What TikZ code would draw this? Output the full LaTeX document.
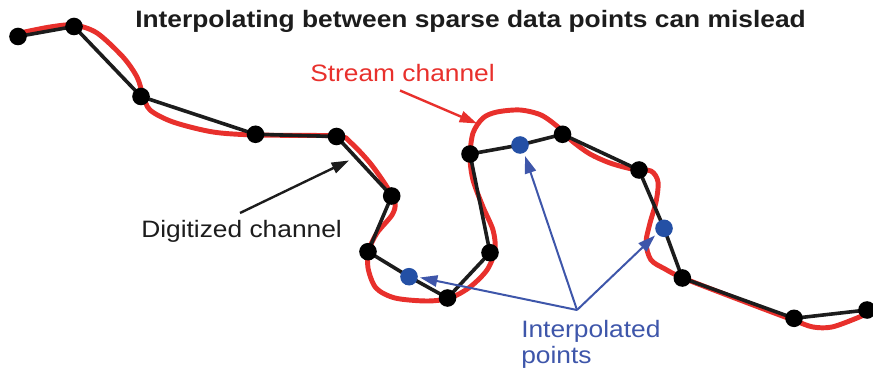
\documentclass[tikz,border=0pt]{standalone}
\usepackage{fontspec}
\setmainfont{Liberation Sans}
\usepackage{graphicx}
\usetikzlibrary{arrows.meta}
\definecolor{cred}{RGB}{232,48,44}
\definecolor{cblue}{RGB}{36,80,165}
\definecolor{clab}{RGB}{62,86,170}
\definecolor{cblk}{RGB}{28,28,28}
\newcommand{\xwide}[1]{\scalebox{1.11}[1]{#1}}
\pgfdeclarelayer{bg}
\pgfsetlayers{bg,main}
\begin{document}
\begin{tikzpicture}[x=0.75pt,y=-0.75pt,
  bdot/.style={circle,fill=black,inner sep=0pt,minimum size=13.2pt},
  idot/.style={circle,fill=cblue,inner sep=0pt,minimum size=13.2pt},
  blkline/.style={draw=cblk,line width=2.7pt,line join=round},
  redline/.style={draw=cred,line width=3.7pt,line cap=round,line join=round},
  lab/.style={inner sep=0pt,anchor=base west,font=\fontsize{17.8}{18.8}\selectfont},
  tip/.style={-{Triangle[length=13pt,width=8.5pt]}},
  redarr/.style={tip,draw=cred,fill=cred,line width=1.8pt},
  blkarr/.style={tip,draw=cblk,fill=cblk,line width=1.8pt},
  bluarr/.style={tip,draw=clab,fill=clab,line width=1.5pt}]
\useasboundingbox (0,0) rectangle (873,370);

% title
\node[inner sep=0pt,anchor=base west,font=\fontsize{17.8}{20}\selectfont\bfseries,text=cblk] (title) at (135,28)
  {\xwide{Interpolating between sparse data points can mislead}};

% data points
\node[bdot] (p1) at (18,36.5) {};
\node[bdot] (p2) at (74,26.5) {};
\node[bdot] (p3) at (141,96.5) {};
\node[bdot] (p4) at (255.5,134.3) {};
\node[bdot] (p5) at (336.5,136.5) {};
\node[bdot] (p6) at (391.7,196) {};
\node[bdot] (p7) at (368,251.7) {};
\node[bdot] (p8) at (447.5,298) {};
\node[bdot] (p9) at (490,252.7) {};
\node[bdot] (p10) at (470,154) {};
\node[bdot] (p11) at (562.5,134.3) {};
\node[bdot] (p12) at (639,170) {};
\node[bdot] (p13) at (682.3,278) {};
\node[bdot] (p14) at (794,318.3) {};
\node[bdot] (p15) at (867,310) {};
\node[idot] (i1) at (409,276.7) {};
\node[idot] (i2) at (520,145) {};
\node[idot] (i3) at (664,228.3) {};

\begin{pgfonlayer}{bg}
% stream channel (red)
\draw[redline] plot[smooth,tension=0.5] coordinates {
 (20,33) (50,27) (74,25) (97,33) (123,57) (137,77) (143,95) (150,110) (173,122)
 (213,132) (256,135) (336,136) (350,142) (370,163) (387,187) (395,203) (392,215)
 (377,233) (369,250) (368,268) (376,288) (395,298) (427,301) (450,298) (470,287)
 (487,270) (495,250) (493,230) (483,207) (473,180) (470,157) (473,133) (483,118)
 (497,112) (520,110) (541,115) (558,127) (572,141) (590,154) (610,163) (632,169)
 (651,171) (658,182) (656,202) (650,223) (646,243) (651,260) (665,269) (683,278)
 (740,300) (793,320) (813,327) (832,327) (857,318) (870,312)};
% digitized channel (black)
\draw[blkline] (p1.center) -- (p2.center) -- (p3.center) -- (p4.center) -- (p5.center)
  -- (p6.center) -- (p7.center) -- (i1.center) -- (p8.center) -- (p9.center) -- (p10.center)
  -- (i2.center) -- (p11.center) -- (p12.center) -- (i3.center) -- (p13.center)
  -- (p14.center) -- (p15.center);
\end{pgfonlayer}

% labels
\node[lab,text=cred] (stream) at (310,82) {\xwide{Stream channel}};
\node[lab,text=cblk] (digit) at (141,238) {\xwide{Digitized channel}};
\node[lab,text=clab,align=left] (interp) at (521,363) {\xwide{Interpolated}\\\xwide{points}};

% arrows
\coordinate (sA) at (400,90.5);
\coordinate (sB) at (477,123.5);
\draw[redarr] (sA) -- (sB);
\coordinate (dA) at (240,213);
\coordinate (dB) at (349,160.5);
\draw[blkarr] (dA) -- (dB);
\coordinate (j) at (577,310);
\coordinate (t1) at (420,277.5);
\coordinate (t2) at (525,156);
\coordinate (t3) at (655,235.5);
\draw[bluarr] (j) -- (t1);
\draw[bluarr] (j) -- (t2);
\draw[bluarr] (j) -- (t3);
\end{tikzpicture}
\end{document}
